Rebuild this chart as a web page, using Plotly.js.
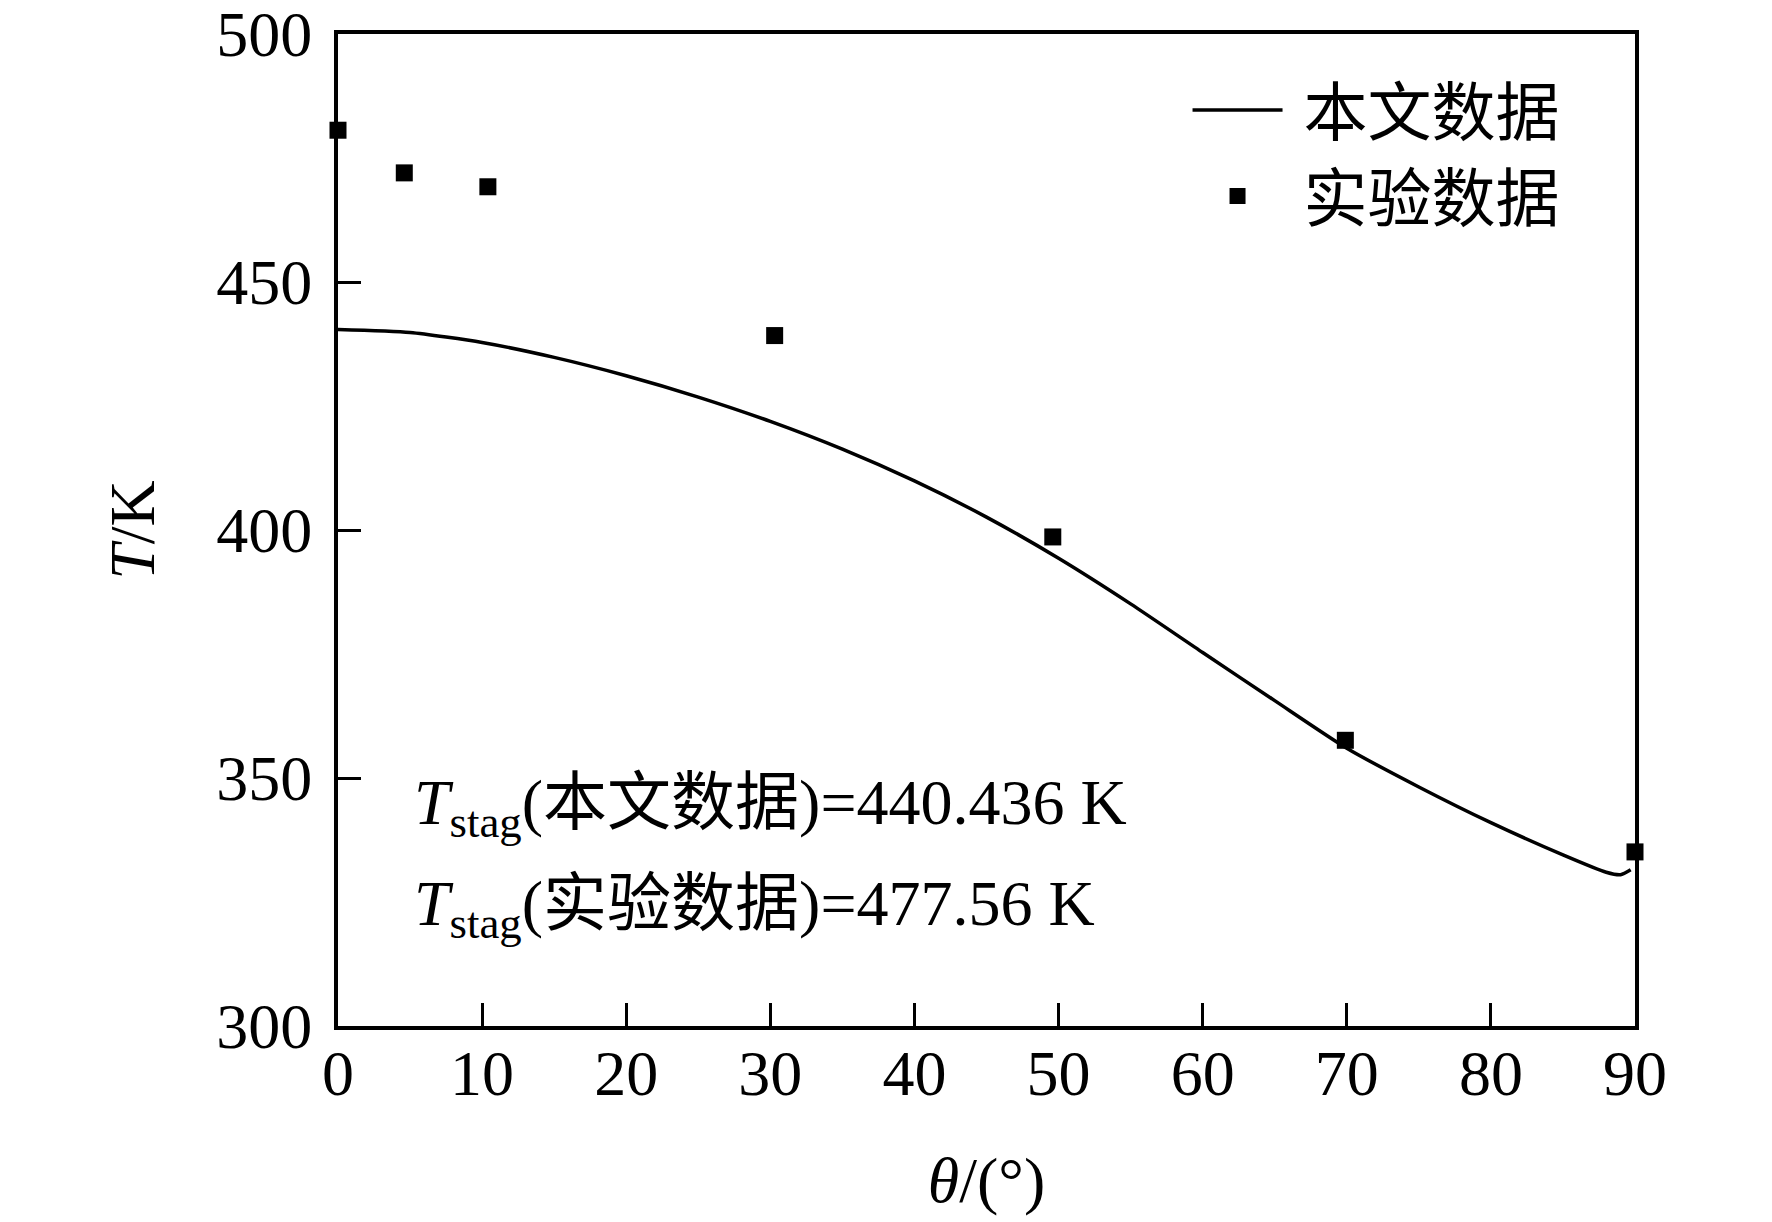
<!DOCTYPE html>
<html>
<head>
<meta charset="utf-8">
<script src="https://cdn.plot.ly/plotly-3.0.1.min.js"></script>
<style>html,body{margin:0;padding:0;background:#fff;}#chart{width:1772px;height:1222px;}</style>
</head>
<body>
<div id="chart"></div>
<script>
// Model curve (本文数据)
const modelTheta = [0, 5, 10, 15, 20, 25, 30, 35, 40, 45, 50, 55, 60, 65, 70, 75, 80, 85, 88, 89, 89.7];
const modelT     = [440.4, 439.8, 437.8, 434.8, 431.1, 426.8, 421.9, 416.3, 409.9, 402.6, 394.3, 385.1, 375.3, 365.6, 356.0, 348.2, 341.0, 334.5, 331.0, 330.5, 331.5];
// Experimental points (实验数据)
const expTheta = [0, 4.6, 10.4, 30.3, 49.6, 69.9, 90];
const expT     = [480.6, 472.0, 469.2, 439.2, 398.6, 357.6, 335.1];
// Axis ticks
const xTicks = [0, 10, 20, 30, 40, 50, 60, 70, 80, 90];
const yTicks = [300, 350, 400, 450, 500];
const seriesNames = ['\u00A0本文数据', '\u00A0实验数据'];
const notes = ['<i>T</i><sub>stag</sub>(本文数据)=440.436 K', '<i>T</i><sub>stag</sub>(实验数据)=477.56 K'];

const FONT = '"Liberation Serif", "Times New Roman", "Noto Sans CJK SC", serif';

const traces = [
  {x: modelTheta, y: modelT, name: seriesNames[0], type: 'scatter', mode: 'lines',
   line: {color: '#000', width: 3.5, shape: 'spline', smoothing: 0.6}},
  {x: expTheta, y: expT, name: seriesNames[1], type: 'scatter', mode: 'markers',
   marker: {symbol: 'square', size: 17, color: '#000'}, cliponaxis: false}
];

const layout = {
  width: 1772, height: 1222,
  margin: {l: 338, r: 137, t: 34, b: 196},
  paper_bgcolor: '#fff', plot_bgcolor: '#fff',
  font: {family: FONT, size: 64, color: '#000'},
  showlegend: true,
  legend: {x: 0.655, xanchor: 'left', y: 0.972, yanchor: 'top', bgcolor: 'rgba(0,0,0,0)',
           borderwidth: 0, font: {family: FONT, size: 64, color: '#000'}, itemwidth: 90,
           tracegroupgap: 0},
  xaxis: {range: [0, 90], tickvals: xTicks, ticktext: xTicks.map(String),
          ticks: 'inside', ticklen: 23, tickwidth: 3, tickcolor: '#000',
          showline: true, linecolor: '#000', linewidth: 4, mirror: true,
          showgrid: false, zeroline: false, ticklabeloverflow: 'allow', ticklabelstandoff: -12,
          tickfont: {family: FONT, size: 64, color: '#000'},
          title: {text: '<i>θ</i>/(°)', font: {family: FONT, size: 64, color: '#000'}, standoff: 50}},
  yaxis: {range: [300, 500], tickvals: yTicks, ticktext: yTicks.map(String),
          ticks: 'inside', ticklen: 23, tickwidth: 3, tickcolor: '#000',
          showline: true, linecolor: '#000', linewidth: 4, mirror: true,
          showgrid: false, zeroline: false, ticklabeloverflow: 'allow', ticklabelstandoff: 9,
          tickfont: {family: FONT, size: 64, color: '#000'},
          title: {text: '<i>T</i>/K', font: {family: FONT, size: 64, color: '#000'}, standoff: 42}},
  annotations: [
    {xref: 'paper', yref: 'paper', x: 0.057, y: 0.221, xanchor: 'left', yanchor: 'middle',
     text: notes[0], showarrow: false, font: {family: FONT, size: 64, color: '#000'}},
    {xref: 'paper', yref: 'paper', x: 0.057, y: 0.119, xanchor: 'left', yanchor: 'middle',
     text: notes[1], showarrow: false, font: {family: FONT, size: 64, color: '#000'}}
  ]
};

Plotly.newPlot('chart', traces, layout, {displayModeBar: false, staticPlot: true});
</script>
</body>
</html>
